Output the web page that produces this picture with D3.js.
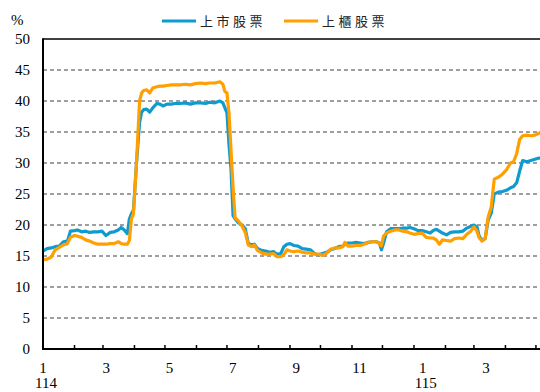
<!DOCTYPE html>
<html><head><meta charset="utf-8">
<script src="https://cdn.jsdelivr.net/npm/d3@7/dist/d3.min.js"></script>
<style>
html,body{margin:0;padding:0;background:#fff;}
svg{display:block;}
</style></head>
<body>
<svg id="chart" width="540" height="392"></svg>
<script>
const seriesNames = ["上市股票", "上櫃股票"];
const seriesColors = ["#0f9bd0", "#ff9f00"];
const dates = ["2025-01-01","2025-01-05","2025-01-09","2025-01-13","2025-01-17","2025-01-21","2025-01-25","2025-01-28","2025-02-01","2025-02-04","2025-02-08","2025-02-12","2025-02-16","2025-02-20","2025-02-24","2025-02-28","2025-03-04","2025-03-08","2025-03-12","2025-03-16","2025-03-19","2025-03-22","2025-03-25","2025-03-27","2025-03-29","2025-03-31","2025-04-03","2025-04-06","2025-04-08","2025-04-10","2025-04-13","2025-04-16","2025-04-19","2025-04-23","2025-04-26","2025-04-29","2025-05-03","2025-05-07","2025-05-11","2025-05-16","2025-05-21","2025-05-26","2025-05-31","2025-06-05","2025-06-10","2025-06-14","2025-06-19","2025-06-24","2025-06-27","2025-06-29","2025-07-01","2025-07-03","2025-07-05","2025-07-07","2025-07-09","2025-07-12","2025-07-16","2025-07-19","2025-07-22","2025-07-25","2025-07-28","2025-07-31","2025-08-04","2025-08-08","2025-08-12","2025-08-16","2025-08-19","2025-08-23","2025-08-26","2025-08-29","2025-09-01","2025-09-05","2025-09-09","2025-09-13","2025-09-17","2025-09-21","2025-09-25","2025-09-29","2025-10-03","2025-10-07","2025-10-11","2025-10-15","2025-10-19","2025-10-23","2025-10-25","2025-10-28","2025-11-01","2025-11-05","2025-11-09","2025-11-13","2025-11-17","2025-11-21","2025-11-25","2025-11-28","2025-11-30","2025-12-02","2025-12-05","2025-12-09","2025-12-13","2025-12-17","2025-12-21","2025-12-25","2025-12-28","2026-01-01","2026-01-05","2026-01-09","2026-01-13","2026-01-17","2026-01-20","2026-01-23","2026-01-26","2026-01-29","2026-02-02","2026-02-06","2026-02-10","2026-02-14","2026-02-18","2026-02-22","2026-02-26","2026-03-01","2026-03-04","2026-03-06","2026-03-09","2026-03-12","2026-03-15","2026-03-18","2026-03-21","2026-03-25","2026-03-29","2026-04-02","2026-04-06","2026-04-09","2026-04-12","2026-04-15","2026-04-18","2026-04-22","2026-04-26","2026-04-30","2026-05-04","2026-05-07"];
const listed = [15.8,16.2,16.3,16.5,16.6,17.3,17.4,19.0,19.1,19.2,18.9,19.0,18.8,18.9,18.9,19.0,18.3,18.8,18.9,19.2,19.6,19.2,18.6,21.0,21.8,22.4,30.0,36.5,38.2,38.6,38.7,38.2,38.9,39.6,39.5,39.2,39.5,39.5,39.6,39.6,39.7,39.5,39.7,39.7,39.6,39.8,39.7,40.0,39.7,38.9,38.1,33.0,29.0,21.5,21.0,20.4,20.0,19.4,17.0,16.8,16.9,16.2,15.9,15.8,15.6,15.7,15.3,15.4,16.5,16.9,17.0,16.7,16.6,16.2,16.1,16.0,15.4,15.2,15.4,15.6,16.0,16.2,16.5,16.6,16.9,17.1,17.1,17.2,17.1,17.0,17.2,17.3,17.3,17.1,16.0,17.0,18.9,19.4,19.4,19.4,19.5,19.5,19.6,19.4,19.1,19.1,18.9,18.7,19.1,19.3,19.0,18.7,18.4,18.8,18.9,18.9,19.0,19.5,19.8,20.0,19.7,18.3,17.5,17.8,20.8,21.9,25.0,25.3,25.4,25.6,26.0,26.2,26.8,28.7,30.4,30.2,30.4,30.6,30.8,30.8];
const otc = [14.4,14.5,14.8,16.0,16.4,16.8,17.0,18.0,18.3,18.2,18.0,17.6,17.4,17.1,16.9,16.9,16.9,17.0,17.0,17.3,17.0,16.9,16.9,17.5,21.0,21.8,30.0,40.0,41.3,41.7,41.8,41.3,42.1,42.3,42.4,42.4,42.5,42.6,42.6,42.6,42.7,42.6,42.8,42.9,42.8,42.9,42.9,43.1,42.7,41.5,41.3,38.0,32.0,26.0,21.2,20.7,19.8,18.8,16.8,16.5,16.8,15.9,15.5,15.3,15.3,15.4,14.9,14.9,15.2,16.0,15.8,15.7,15.8,15.6,15.5,15.5,15.3,15.3,15.1,15.4,16.1,16.3,16.3,16.5,17.2,16.6,16.6,16.7,16.7,16.9,17.2,17.3,17.3,17.0,16.6,18.2,18.7,19.0,19.2,19.2,19.0,18.9,18.7,18.5,18.6,18.7,18.0,17.9,17.9,17.6,16.9,17.6,17.5,17.4,17.8,17.9,17.8,18.5,19.0,19.7,19.0,18.0,17.4,17.8,21.3,22.9,27.4,27.7,28.2,28.9,30.0,30.2,31.5,33.8,34.4,34.5,34.4,34.5,34.8,35.0];
const yTicks = [0,5,10,15,20,25,30,35,40,45,50];
const monthLabels = ["1","3","5","7","9","11","1","3"];
const yearLabels = [{label:"114", at:0},{label:"115", at:6}];
const xStart = "2025-01-01", xEnd = "2026-05-05";

const parse = d3.timeParse("%Y-%m-%d");
const svg = d3.select("#chart");
const L = 43, R = 540, T = 39, B = 349;
const x = d3.scaleTime().domain([parse(xStart), parse(xEnd)]).range([L, R]);
const y = d3.scaleLinear().domain([0, 50]).range([B, T]);
const labelX = d3.scalePoint().domain(d3.range(monthLabels.length)).range([43, 486]);

// gridlines
svg.append("g").selectAll("line").data(yTicks.filter(v => v > 0 && v < 50)).join("line")
  .attr("x1", L).attr("x2", R).attr("y1", d => y(d)).attr("y2", d => y(d))
  .attr("stroke", "#808080").attr("stroke-width", 1.5).attr("stroke-dasharray", "4,3");
// top border
svg.append("line").attr("x1", L).attr("x2", R).attr("y1", y(50)).attr("y2", y(50))
  .attr("stroke", "#000").attr("stroke-width", 1.5);

// y labels
svg.append("g").selectAll("text").data(yTicks).join("text")
  .attr("x", 30).attr("y", d => y(d) + 5).attr("text-anchor", "end")
  .attr("font-family", "Liberation Serif, Times New Roman, serif").attr("font-size", 15)
  .attr("fill", "#000").text(d => d);
svg.append("text").attr("x", 11).attr("y", 25).attr("font-family", "Liberation Serif, serif")
  .attr("font-size", 15).text("%");

// lines
svg.append("clipPath").attr("id", "clip").append("rect")
  .attr("x", L).attr("y", 0).attr("width", R - L).attr("height", B);
const pts = dates.map(parse);
const series = [listed, otc];
series.forEach((vals, i) => {
  const line = d3.line().x((d, j) => x(pts[j])).y(d => y(d));
  svg.append("path").datum(vals).attr("d", line).attr("clip-path", "url(#clip)")
    .attr("fill", "none").attr("stroke", seriesColors[i]).attr("stroke-width", 3.2)
    .attr("stroke-linejoin", "round").attr("stroke-linecap", "round");
});

// x axis
const months = d3.timeMonth.range(parse(xStart), parse(xEnd));
svg.append("g").selectAll("line").data(months).join("line")
  .attr("x1", d => x(d)).attr("x2", d => x(d)).attr("y1", B - 4).attr("y2", B)
  .attr("stroke", "#000").attr("stroke-width", 1.5);
svg.append("line").attr("x1", L).attr("x2", R).attr("y1", B).attr("y2", B)
  .attr("stroke", "#000").attr("stroke-width", 2);
svg.append("line").attr("x1", L).attr("x2", L).attr("y1", T - 0.75).attr("y2", B + 1)
  .attr("stroke", "#000").attr("stroke-width", 2);

svg.append("g").selectAll("text").data(monthLabels).join("text")
  .attr("x", (d, i) => labelX(i)).attr("y", 373).attr("text-anchor", "middle")
  .attr("font-family", "Liberation Serif, serif").attr("font-size", 15).text(d => d);
svg.append("g").selectAll("text").data(yearLabels).join("text")
  .attr("x", d => labelX(d.at) + 3).attr("y", 388).attr("text-anchor", "middle")
  .attr("font-family", "Liberation Serif, serif").attr("font-size", 15).text(d => d.label);

// legend
const leg = svg.append("g");
const legX = [162, 284];
seriesNames.forEach((n, i) => {
  leg.append("line").attr("x1", legX[i]).attr("x2", legX[i] + 34).attr("y1", 21).attr("y2", 21)
    .attr("stroke", seriesColors[i]).attr("stroke-width", 3);
  leg.append("text").attr("x", legX[i] + 38).attr("y", 26)
    .attr("font-family", "Noto Sans CJK TC, sans-serif").attr("font-size", 13)
    .attr("letter-spacing", 3.5).attr("fill", "#222").text(n);
});
</script>
</body></html>
